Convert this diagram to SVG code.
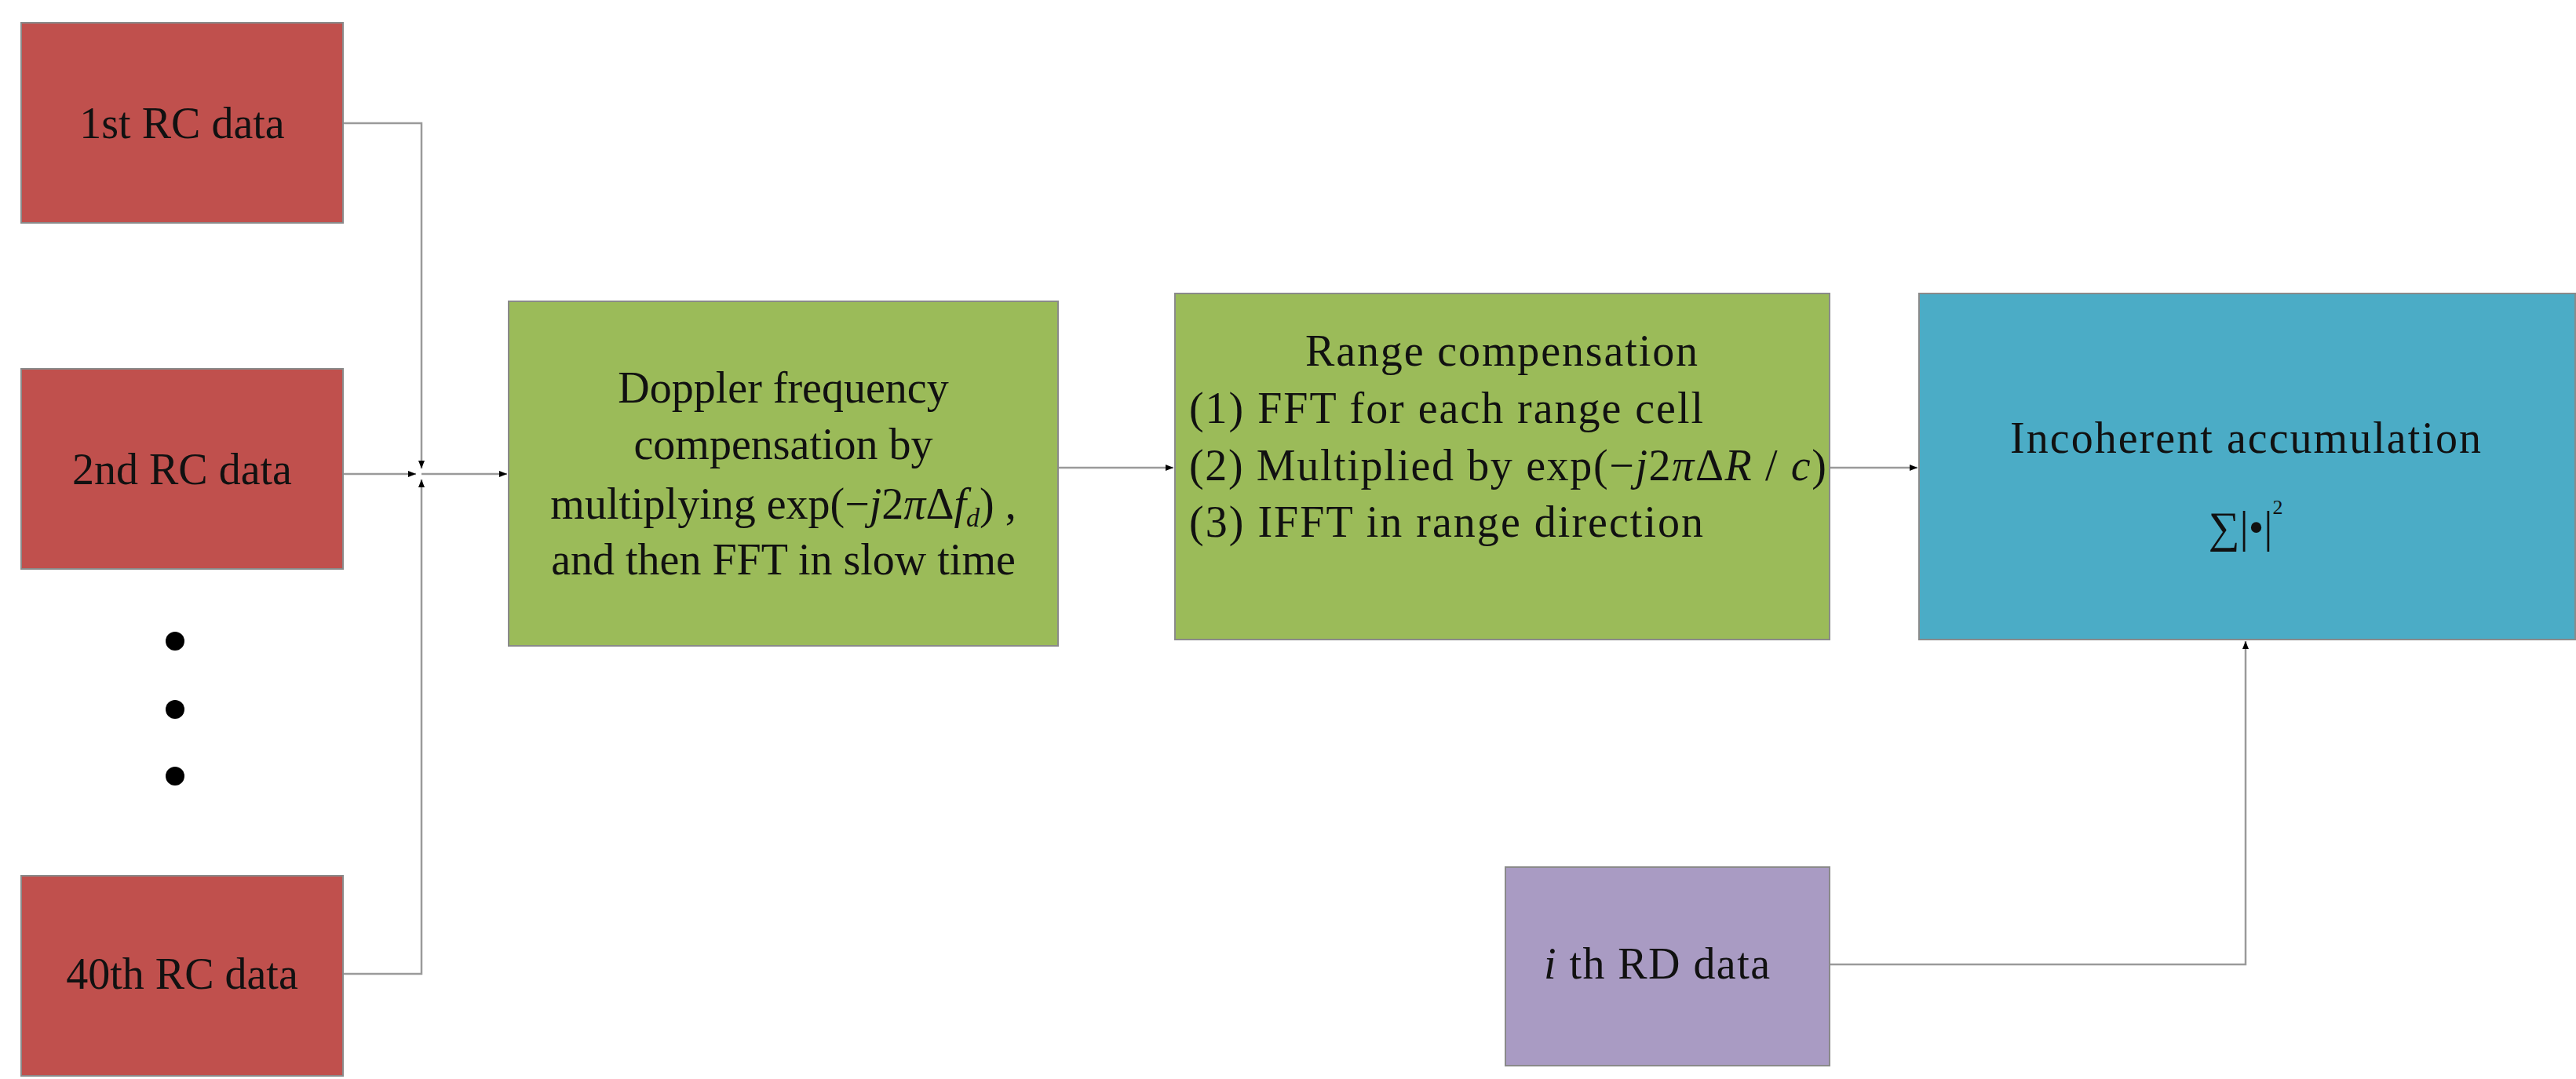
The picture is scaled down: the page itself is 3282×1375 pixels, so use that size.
<svg xmlns="http://www.w3.org/2000/svg" width="3282" height="1375" viewBox="0 0 3282 1375">
<style>
text{font-family:"Liberation Serif","Times New Roman",serif;font-size:56px;fill:#111}
.c{text-anchor:middle}
.n{stroke:#8a8a8a;stroke-width:2}
.e{fill:none;stroke:#9a9a9a;stroke-width:2.5}
.i{font-style:italic}
</style>
<defs><marker id="a" markerWidth="10" markerHeight="8" refX="10" refY="4" orient="auto" markerUnits="userSpaceOnUse"><path d="M0,0L10,4L0,8z" fill="#000"/></marker></defs>
<rect width="3282" height="1375" fill="#fff"/>
<g id="connectors">
<path class="e" d="M437,157H537V597" marker-end="url(#a)"/>
<path class="e" d="M437,1241H537V611" marker-end="url(#a)"/>
<path class="e" d="M437,604H530" marker-end="url(#a)"/>
<path class="e" d="M537,604H646" marker-end="url(#a)"/>
<path class="e" d="M1348,596H1495" marker-end="url(#a)"/>
<path class="e" d="M2331,596H2443" marker-end="url(#a)"/>
<path class="e" d="M2331,1229H2861V817" marker-end="url(#a)"/>
</g>
<g id="rc1"><rect class="n" x="27" y="29" width="410" height="255" fill="#C0504D"/><text class="c" x="232" y="176">1st RC data</text></g>
<g id="rc2"><rect class="n" x="27" y="470" width="410" height="255" fill="#C0504D"/><text class="c" x="232" y="617">2nd RC data</text></g>
<g id="dots"><circle cx="223" cy="817" r="12"/><circle cx="223" cy="904" r="12"/><circle cx="223" cy="989" r="12"/></g>
<g id="rc40"><rect class="n" x="27" y="1116" width="410" height="255" fill="#C0504D"/><text class="c" x="232" y="1260">40th RC data</text></g>
<g id="doppler"><rect class="n" x="648" y="384" width="700" height="439" fill="#9BBB59"/>
<text class="c" x="998" y="513">Doppler frequency</text>
<text class="c" x="998" y="585">compensation by</text>
<text class="c" x="998" y="661">multiplying exp(−<tspan class="i">j</tspan>2<tspan class="i">π</tspan>Δ<tspan class="i">f</tspan><tspan class="i" font-size="34" dy="10">d</tspan><tspan dy="-10">) ,</tspan></text>
<text class="c" x="998" y="732">and then FFT in slow time</text></g>
<g id="range"><rect class="n" x="1497" y="374" width="834" height="441" fill="#9BBB59"/>
<text class="c" x="1913" y="466" textLength="500">Range compensation</text>
<text x="1515" y="539" textLength="655">(1) FFT for each range cell</text>
<text x="1515" y="612" textLength="812">(2) Multiplied by exp(−<tspan class="i">j</tspan>2<tspan class="i">π</tspan>Δ<tspan class="i">R</tspan> / <tspan class="i">c</tspan>)</text>
<text x="1515" y="684" textLength="655">(3) IFFT in range direction</text></g>
<g id="incoherent"><rect class="n" x="2445" y="374" width="836" height="441" fill="#4BACC6"/>
<text class="c" x="2861" y="577" textLength="600">Incoherent accumulation</text>
<text class="c" x="2861" y="691" font-size="64">∑|•|<tspan font-size="26" dy="-36">2</tspan></text></g>
<g id="rd"><rect class="n" x="1918" y="1105" width="413" height="253" fill="#A99BC3"/>
<text class="c" x="2111" y="1247" textLength="288"><tspan class="i">i</tspan> th RD data</text></g>
</svg>
